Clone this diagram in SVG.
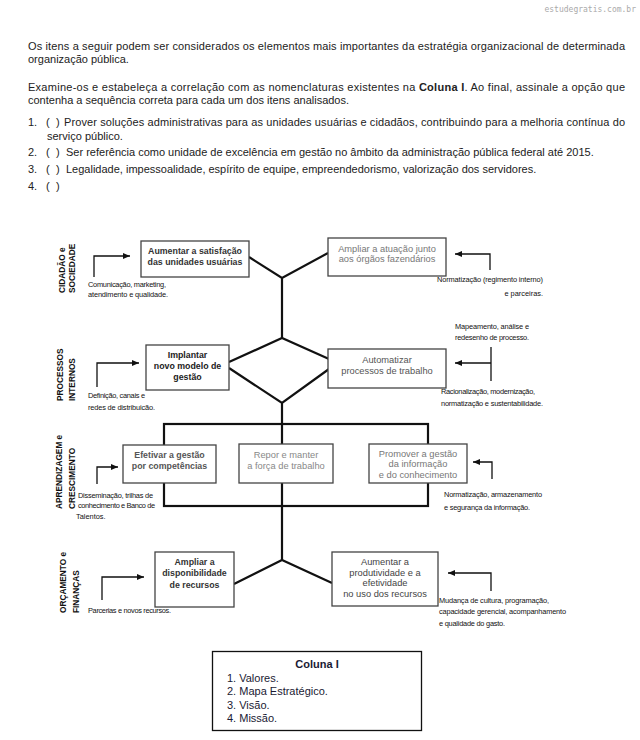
<svg xmlns="http://www.w3.org/2000/svg" width="640" height="740" viewBox="0 0 640 740">
<defs>
<marker id="ah" markerUnits="userSpaceOnUse" markerWidth="8" markerHeight="7" refX="7" refY="3" orient="auto"><path d="M0,0 L7,3 L0,6 z" fill="#111"/></marker>
<style>
.hd{font-family:"Liberation Sans",Arial,sans-serif;font-size:11px;fill:#222}
.wm{font-family:"DejaVu Sans Mono",monospace;font-size:8px;fill:#aaa}
.bx{fill:#fff;stroke:#444;stroke-width:1.3}
.tb{font-family:"Liberation Sans",Arial,sans-serif;font-size:8.8px;font-weight:bold;text-anchor:middle}
.tr{font-family:"Liberation Sans",Arial,sans-serif;font-size:9.3px;text-anchor:middle}
.an{font-family:"Liberation Sans",Arial,sans-serif;font-size:7.4px;fill:#111}
.vl{font-family:"Liberation Sans",Arial,sans-serif;font-size:8.3px;font-weight:bold;fill:#111}
.ln{fill:none;stroke:#111;stroke-width:2.2}
.ar{fill:none;stroke:#111;stroke-width:1.3}
.col{font-family:"Liberation Sans",Arial,sans-serif;font-size:11px;fill:#1a1a33}
</style>
</defs>
<rect width="640" height="740" fill="#fff"/>
<text class="wm" x="636" y="12" text-anchor="end">estudegratis.com.br</text>
<g id="header">
<text class="hd" x="28" y="50" textLength="597">Os itens a seguir podem ser considerados os elementos mais importantes da estratégia organizacional de determinada</text>
<text class="hd" x="28" y="63">organização pública.</text>
<text class="hd" x="28" y="91" textLength="597">Examine-os e estabeleça a correlação com as nomenclaturas existentes na <tspan font-weight="bold">Coluna I</tspan>. Ao final, assinale a opção que</text>
<text class="hd" x="28" y="104">contenha a sequência correta para cada um dos itens analisados.</text>
<text class="hd" x="28" y="126">1.</text><text class="hd" x="46" y="126">(</text><text class="hd" x="56" y="126">)</text>
<text class="hd" x="64" y="126" textLength="561">Prover soluções administrativas para as unidades usuárias e cidadãos, contribuindo para a melhoria contínua do</text>
<text class="hd" x="47" y="140">serviço público.</text>
<text class="hd" x="28" y="156">2.</text><text class="hd" x="46" y="156">(</text><text class="hd" x="56" y="156">)</text>
<text class="hd" x="66" y="156">Ser referência como unidade de excelência em gestão no âmbito da administração pública federal até 2015.</text>
<text class="hd" x="28" y="173">3.</text><text class="hd" x="46" y="173">(</text><text class="hd" x="56" y="173">)</text>
<text class="hd" x="66" y="173">Legalidade, impessoalidade, espírito de equipe, empreendedorismo, valorização dos servidores.</text>
<text class="hd" x="28" y="190">4.</text><text class="hd" x="46" y="190">(</text><text class="hd" x="56" y="190">)</text>
</g>
<g id="row-labels">
<text class="vl" font-size="8.7" transform="translate(64.5,293) rotate(-90)">CIDADÃO e</text>
<text class="vl" font-size="8.7" transform="translate(75,293) rotate(-90)">SOCIEDADE</text>
<text class="vl" transform="translate(62.5,401) rotate(-90)">PROCESSOS</text>
<text class="vl" transform="translate(75,401) rotate(-90)">INTERNOS</text>
<text class="vl" transform="translate(61.5,509) rotate(-90)">APRENDIZAGEM e</text>
<text class="vl" transform="translate(75,509) rotate(-90)">CRESCIMENTO</text>
<text class="vl" transform="translate(66,613) rotate(-90)">ORÇAMENTO e</text>
<text class="vl" transform="translate(79,613) rotate(-90)">FINANÇAS</text>
</g>
<g id="connectors">
<path class="ln" d="M249,257 L282,278 L328,253 M282,278 V338"/>
<path class="ln" d="M229,362 L282,338 L329,359 M229,368 L282,403 L329,369 M282,403 V444 M282,483 V560"/>
<rect class="ln" x="164" y="424" width="264" height="82"/>
<path class="ln" d="M234,584 L282,560 L332,583"/>
<path class="ar" d="M94,277 V256 H130" marker-end="url(#ah)"/>
<path class="ar" d="M97,387 V363 H139" marker-end="url(#ah)"/>
<path class="ar" d="M97,484 V467 H118" marker-end="url(#ah)"/>
<path class="ar" d="M102,600 V577 H144" marker-end="url(#ah)"/>
<path class="ar" d="M490,270 V254 H455" marker-end="url(#ah)"/>
<path class="ar" d="M491,347 V381"/>
<path class="ar" d="M491,363 H455" marker-end="url(#ah)"/>
<path class="ar" d="M492,479 V462 H473" marker-end="url(#ah)"/>
<path class="ar" d="M491,591 V573 H448" marker-end="url(#ah)"/>
</g>
<g id="n-satisfacao">
<rect class="bx" x="141" y="241" width="108" height="36"/>
<text class="tb" x="195" y="254" fill="#333">Aumentar a satisfação</text>
<text class="tb" x="195" y="265" fill="#333">das unidades usuárias</text>
</g>
<g id="n-atuacao">
<rect class="bx" x="328" y="238" width="118" height="38"/>
<text class="tr" x="387" y="251.5" fill="#777">Ampliar a atuação junto</text>
<text class="tr" x="387" y="262" fill="#777">aos órgãos fazendários</text>
</g>
<g id="n-implantar">
<rect class="bx" x="146" y="345" width="83" height="45"/>
<text class="tb" x="187.5" y="358" fill="#222">Implantar</text>
<text class="tb" x="187.5" y="369" fill="#222">novo modelo de</text>
<text class="tb" x="187.5" y="380" fill="#222">gestão</text>
</g>
<g id="n-automatizar">
<rect class="bx" x="328" y="349" width="118" height="39"/>
<text class="tr" x="387" y="362.5" fill="#555">Automatizar</text>
<text class="tr" x="387" y="373.5" fill="#555">processos de trabalho</text>
</g>
<g id="n-efetivar">
<rect class="bx" x="123" y="445" width="93" height="38"/>
<text class="tb" x="169.5" y="458" fill="#555">Efetivar a gestão</text>
<text class="tb" x="169.5" y="469" fill="#555">por competências</text>
</g>
<g id="n-repor">
<rect class="bx" x="239" y="444" width="94" height="39"/>
<text class="tr" x="286" y="457.5" fill="#888">Repor e manter</text>
<text class="tr" x="286" y="468.5" fill="#888">a força de trabalho</text>
</g>
<g id="n-promover">
<rect class="bx" x="369" y="444" width="98" height="39"/>
<text class="tr" x="418" y="456.5" fill="#777">Promover a gestão</text>
<text class="tr" x="418" y="467" fill="#777">da informação</text>
<text class="tr" x="418" y="477.5" fill="#777">e do conhecimento</text>
</g>
<g id="n-disponibilidade">
<rect class="bx" x="155" y="552" width="79" height="55"/>
<text class="tb" x="194.5" y="564.5" fill="#333">Ampliar a</text>
<text class="tb" x="194.5" y="576" fill="#333">disponibilidade</text>
<text class="tb" x="194.5" y="587.5" fill="#333">de recursos</text>
</g>
<g id="n-produtividade">
<rect class="bx" x="332" y="552" width="106" height="54"/>
<text class="tr" x="385" y="565" fill="#444">Aumentar a</text>
<text class="tr" x="385" y="575.5" fill="#444">produtividade e a</text>
<text class="tr" x="385" y="586" fill="#444">efetividade</text>
<text class="tr" x="385" y="596.5" fill="#444">no uso dos recursos</text>
</g>
<g id="annotations">
<text class="an" x="88" y="287" textLength="78">Comunicação, marketing,</text>
<text class="an" x="88" y="297" textLength="80">atendimento e qualidade.</text>
<text class="an" x="437" y="282" textLength="106">Normatização (regimento interno)</text>
<text class="an" x="543" y="296" text-anchor="end">e parceiras.</text>
<text class="an" x="88" y="398" textLength="57">Definição, canais e</text>
<text class="an" x="88" y="409.5" textLength="67">redes de distribuicão.</text>
<text class="an" x="455" y="329" textLength="74">Mapeamento, análise e</text>
<text class="an" x="455" y="340" textLength="74">redesenho de processo.</text>
<text class="an" x="441" y="394" textLength="94">Racionalização, modernização,</text>
<text class="an" x="441" y="406" textLength="102">normatização e sustentabilidade.</text>
<text class="an" x="78" y="497.5" textLength="75">Disseminação, trilhas de</text>
<text class="an" x="78" y="507.5" textLength="77">conhecimento e Banco de</text>
<text class="an" x="76" y="519">Talentos.</text>
<text class="an" x="444" y="497" textLength="98">Normatização, armazenamento</text>
<text class="an" x="444" y="509.5" textLength="86">e segurança da informação.</text>
<text class="an" x="88" y="613" textLength="83">Parcerias e novos recursos.</text>
<text class="an" x="439" y="602.5" textLength="110">Mudança de cultura, programação,</text>
<text class="an" x="439" y="613.5" textLength="127">capacidade gerencial, acompanhamento</text>
<text class="an" x="439" y="626" textLength="66">e qualidade do gasto.</text>
</g>
<g id="coluna-i">
<rect x="212.5" y="651.5" width="209" height="79" fill="#fff" stroke="#111" stroke-width="1.3"/>
<text class="col" x="317" y="668" text-anchor="middle" font-weight="bold">Coluna I</text>
<text class="col" x="227" y="682">1. Valores.</text>
<text class="col" x="227" y="695">2. Mapa Estratégico.</text>
<text class="col" x="227" y="708.5">3. Visão.</text>
<text class="col" x="227" y="722">4. Missão.</text>
</g>
</svg>
